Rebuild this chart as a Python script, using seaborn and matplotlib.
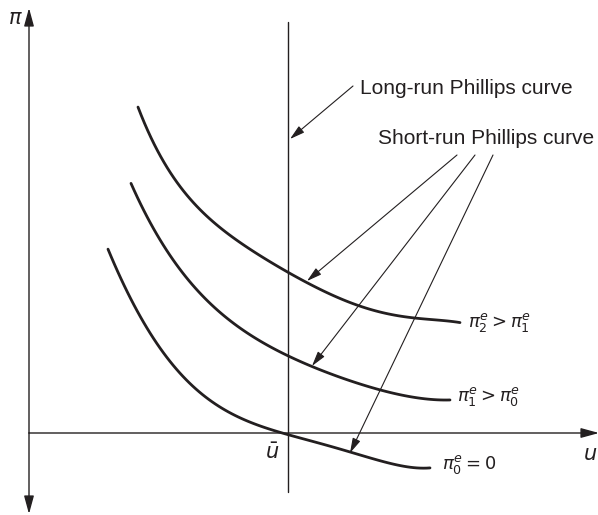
import seaborn as sns
import matplotlib.pyplot as plt
import pandas as pd

# Short-run Phillips curves (u, pi), screen units
curve2_u = [138, 150, 167, 183, 200, 217, 233, 250, 267, 288, 305, 330, 357, 380, 413, 437, 460]
curve2_pi = [104, 140, 168, 190, 208, 223, 237, 250, 262, 273, 282, 293, 304, 312, 318, 321, 322]
curve1_u = [131, 143, 160, 177, 200, 217, 233, 250, 267, 288, 310, 347, 380, 413, 450]
curve1_pi = [183, 210, 238, 267, 292, 310, 323, 335, 345, 356, 365, 380, 390, 397, 400]
curve0_u = [108, 120, 133, 150, 167, 183, 200, 217, 233, 250, 267, 288, 313, 350, 380, 430]
curve0_pi = [249, 277, 303, 333, 357, 377, 392, 405, 415, 423, 428, 433, 442, 453, 460, 468]

curve_labels = [r"$\pi_2^e > \pi_1^e$", r"$\pi_1^e > \pi_0^e$", r"$\pi_0^e = 0$"]
label_pos = [(468, 322), (457, 397), (442, 465)]

# natural rate / long-run curve
u_bar = 288
origin = (29, 433)

# pointer arrows (start, tip)
lr_arrow = ((353, 86), (290, 139))
sr_starts = [(457, 155), (475, 155), (493, 155)]
sr_tips = [(307, 281), (312, 366), (350, 453)]

ink = "#231f20"

sns.set_style("white")
plt.rcParams["font.family"] = ["Liberation Sans", "DejaVu Sans"]
plt.rcParams["mathtext.fontset"] = "dejavusans"

fig = plt.figure(figsize=(5.98, 5.15), dpi=100)
ax = fig.add_axes([0, 0, 1, 1])

# short-run curves, smoothed by a polynomial fit through the read points
for u, p in [(curve2_u, curve2_pi), (curve1_u, curve1_pi), (curve0_u, curve0_pi)]:
    df = pd.DataFrame({"u": u, "pi": p})
    sns.regplot(data=df, x="u", y="pi", order=5, scatter=False, ci=None,
                truncate=True, color=ink, line_kws=dict(lw=2.0), ax=ax)

ax.set_xlim(0, 598)
ax.set_ylim(515, 0)
ax.axis("off")

# axes with arrow heads
ax_style = dict(arrowstyle="-|>,head_length=1.1,head_width=0.3", color=ink, lw=1.0,
                shrinkA=0, shrinkB=0)
for tip in [(origin[0], 8), (origin[0], 514), (599, origin[1])]:
    ax.annotate("", xy=tip, xytext=origin, arrowprops=ax_style, annotation_clip=False)

# long-run Phillips curve
ax.plot([u_bar, u_bar], [22, 492], color=ink, lw=1.0)

for txt, (x, y) in zip(curve_labels, label_pos):
    ax.text(x, y, txt, fontsize=13, color=ink, ha="left", va="center")

# pointers
ptr = dict(arrowstyle="-|>,head_length=0.9,head_width=0.25", color=ink, lw=0.8,
           shrinkA=0, shrinkB=0)
ax.annotate("", xy=lr_arrow[1], xytext=lr_arrow[0], arrowprops=ptr)
for s, t in zip(sr_starts, sr_tips):
    ax.annotate("", xy=t, xytext=s, arrowprops=ptr)

ax.text(360, 88, "Long-run Phillips curve", fontsize=15, color=ink, ha="left", va="center")
ax.text(378, 139, "Short-run Phillips curve", fontsize=15, color=ink, ha="left", va="center")

ax.text(15, 18, r"$\pi$", fontsize=15, color=ink, ha="center", va="center")
ax.text(272, 453, r"$\bar{u}$", fontsize=15, color=ink, ha="center", va="center")
ax.text(583, 455, r"$u$", fontsize=15, color=ink, ha="left", va="center")

fig.savefig("out.png", dpi=100)
